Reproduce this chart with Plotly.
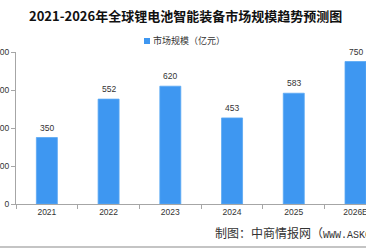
import plotly.graph_objects as go

categories = ["2021", "2022", "2023", "2024", "2025", "2026E"]
values = [350, 552, 620, 453, 583, 750]
series_name = "市场规模（亿元）"
title_text = "2021-2026年全球锂电池智能装备市场规模趋势预测图"
source_cjk = "制图：中商情报网（"
source_latin = "WWW.ASKCI.COM"
source_end = "）"
y_ticks = [0, 200, 400, 600, 800]

W, H = 366, 248
L, R, T, B = 16, 0, 52, 44
PW, PH = W - L - R, H - T - B

def px(x):
    return (x - L) / PW

def py(y):
    return (H - B - y) / PH

bar_color = "#3e97f1"
axis_color = "#a6a6a6"
text_color = "#333333"
num_font = "Liberation Sans, Arial, sans-serif"
cjk_font = "Noto Sans CJK SC, sans-serif"

fig = go.Figure()
fig.add_trace(go.Bar(
    x=categories, y=values, name=series_name,
    marker=dict(color=bar_color, line=dict(color="#5aa8f4", width=0.8)),
    width=0.34, showlegend=False, cliponaxis=False,
))

annotations = []
for i, v in enumerate(values):
    annotations.append(dict(x=i, y=v, xref="x", yref="y", text=str(v), showarrow=False,
                            yshift=10, font=dict(family=num_font, size=8.5, color=text_color)))

# legend text
annotations.append(dict(x=px(151), y=py(41), xref="paper", yref="paper", text=series_name,
                        showarrow=False, xanchor="left", yanchor="middle",
                        font=dict(family=cjk_font, size=9, color=text_color)))
# source
source_text = (source_cjk
               + "<span style='font-family:Liberation Mono, monospace;font-size:10px'>"
               + source_latin + "</span>" + source_end)
annotations.append(dict(x=px(213), y=py(232), xref="paper", yref="paper", text=source_text,
                        showarrow=False, xanchor="left", yanchor="middle",
                        font=dict(family=cjk_font, size=12, color=text_color)))
# title
annotations.append(dict(x=px(185), y=py(16), xref="paper", yref="paper",
                        text="<b>" + title_text + "</b>", showarrow=False,
                        xanchor="center", yanchor="middle",
                        font=dict(family=cjk_font, size=13, color="#111111")))

shapes = [
    dict(type="rect", xref="paper", yref="paper", x0=px(144), x1=px(150), y0=py(44), y1=py(38),
         fillcolor=bar_color, line=dict(width=0)),
    dict(type="line", xref="paper", yref="paper", x0=px(0), x1=px(W), y0=py(247), y1=py(247),
         line=dict(color="#b0b0b0", width=1.5)),
]

fig.update_layout(
    template="none",
    width=W, height=H,
    margin=dict(l=L, r=R, t=T, b=B, pad=0),
    paper_bgcolor="white", plot_bgcolor="white",
    showlegend=False,
    annotations=annotations,
    shapes=shapes,
)
fig.update_xaxes(
    type="category", range=[-0.5, 5.17], automargin=False,
    showline=True, linecolor=axis_color, linewidth=1,
    ticks="outside", tickson="boundaries", ticklen=4, tickcolor=axis_color,
    showgrid=False, zeroline=False,
    tickfont=dict(family=num_font, size=8.5, color=text_color),
)
fig.update_yaxes(
    range=[0, 800], automargin=False,
    tickvals=y_ticks, ticktext=[str(t) for t in y_ticks],
    showline=True, linecolor=axis_color, linewidth=1,
    ticks="outside", ticklen=4, tickcolor=axis_color,
    showgrid=False, zeroline=False,
    tickfont=dict(family=num_font, size=8.5, color=text_color),
)

fig.write_html("out.html")
